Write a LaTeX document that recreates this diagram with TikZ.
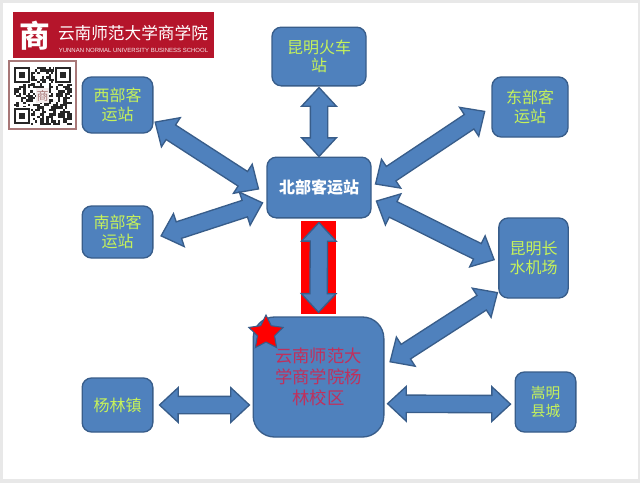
\documentclass[tikz,border=0pt]{standalone}
\usepackage{fontspec}
\setmainfont{Noto Sans CJK SC}
\newfontfamily\latinfont{Liberation Sans}
\usepackage{xcolor}
\usepackage{tikz}
\usetikzlibrary{positioning, shapes.geometric, calc}

\definecolor{boxblue}{HTML}{4F81BD}
\definecolor{boxline}{HTML}{385D8A}
\definecolor{labelgreen}{HTML}{C6F25A}
\definecolor{labelred}{HTML}{C0305C}
\definecolor{logored}{HTML}{B5152B}
\definecolor{qrline}{HTML}{A87878}

\tikzset{
  stationbox/.style={draw=boxline, line width=1pt, fill=boxblue, rounded corners=7pt, inner sep=0pt,
    align=center, text=labelgreen, font=\fontsize{12}{13.7}\selectfont},
  % double block arrow, the two arguments are the gaps at its ends
  dualarrow/.style 2 args={draw=boxline, line width=1pt, fill=boxblue, to path={
    let \p1=($(\tikztostart)!#1!(\tikztotarget)$), \p2=($(\tikztotarget)!#2!(\tikztostart)$) in
    (\p1) -- ($(\p1)!14pt!(\p2)!13pt!90:(\p2)$) -- ($(\p1)!14pt!(\p2)!6.5pt!90:(\p2)$)
    -- ($(\p2)!14pt!(\p1)!6.5pt!-90:(\p1)$) -- ($(\p2)!14pt!(\p1)!13pt!-90:(\p1)$)
    -- (\p2) -- ($(\p2)!14pt!(\p1)!13pt!90:(\p1)$) -- ($(\p2)!14pt!(\p1)!6.5pt!90:(\p1)$)
    -- ($(\p1)!14pt!(\p2)!6.5pt!-90:(\p2)$) -- ($(\p1)!14pt!(\p2)!13pt!-90:(\p2)$) -- cycle}},
}

\begin{document}
\begin{tikzpicture}[x=0.75pt, y=-0.75pt]
  \useasboundingbox (0,0) rectangle (640,483);
  % Slide
  \fill[black!9] (0,0) rectangle (640,483);
  \fill[white] (3,3) rectangle (638,479);

  % Logo
  \fill[logored] (13,12) rectangle (214,58);
  \node[text=white, font=\fontsize{23}{23}\selectfont\bfseries, inner sep=0pt] (logomark) at (34.5,36) {商};
  \node[text=white, font=\fontsize{12.5}{12}\selectfont, inner sep=0pt] (logoname) at (133,33) {云南师范大学商学院};
  \node[text=white!90!logored, font=\latinfont\fontsize{4.5}{5}\selectfont, inner sep=0pt] (logoeng) at (133.5,50) {YUNNAN NORMAL UNIVERSITY BUSINESS SCHOOL};

  % QR code
  \draw[qrline, line width=0.9pt, fill=white] (9,61) rectangle (76,129);
  \pgfmathsetseed{11}
  \foreach \i in {0,...,24} {
    \foreach \j in {0,...,24} {
      \pgfmathtruncatemacro{\bit}{random(0,1)}
      \ifnum\bit=1
        \fill[black!85] ({14+\i*2.32},{67+\j*2.32}) rectangle ++(2.32,2.32);
      \fi
    }
  }
  \foreach \fx/\fy in {14/67, 55/67, 14/108} {
    \fill[white] ({\fx-1},{\fy-1}) rectangle ++(18,18);
    \fill[black!85] (\fx,\fy) rectangle ++(16,16);
    \fill[white] ({\fx+2.3},{\fy+2.3}) rectangle ++(11.4,11.4);
    \fill[black!85] ({\fx+4.6},{\fy+4.6}) rectangle ++(6.8,6.8);
  }
  \fill[white!85!qrline] (36,88) rectangle ++(13,15);
  \node[text=qrline, font=\fontsize{9}{9}\selectfont, inner sep=0pt] (qrmark) at (42.5,95.5) {商};

  % Stations
  \node[stationbox, minimum width=70.5pt, minimum height=44pt] (train) at (319,56.5) {昆明火车\\站};
  \node[stationbox, minimum width=53pt, minimum height=42pt] (west) at (117.5,105) {西部客\\运站};
  \node[stationbox, minimum width=57pt, minimum height=45pt] (east) at (530,107) {东部客\\运站};
  \node[stationbox, minimum width=78pt, minimum height=45.5pt, text=white, font=\fontsize{12}{13.7}\selectfont\bfseries] (north) at (319,187.5) {北部客运站};
  \node[stationbox, minimum width=53pt, minimum height=39pt] (south) at (117.5,232) {南部客\\运站};
  \node[stationbox, minimum width=52pt, minimum height=60pt] (airport) at (533.5,258) {昆明长\\水机场};
  \node[stationbox, minimum width=53pt, minimum height=40.5pt] (yanglin) at (117.5,405) {杨林镇};
  \node[stationbox, minimum width=45.5pt, minimum height=45pt, font=\fontsize{11}{13.5}\selectfont] (songming) at (545.5,402) {嵩明\\县城};
  \node[stationbox, minimum width=98pt, minimum height=90pt, rounded corners=16pt, text=labelred,
    font=\fontsize{13}{15.6}\selectfont] (campus) at (318.5,377) {云南师范大\\学商学院杨\\林校区};

  % Highlight behind the middle arrow
  \fill[red] (301,221) rectangle (336,314);

  % Links
  \draw[dualarrow={0.75pt}{0pt}] (train.south) to (north.north);
  \draw[dualarrow={1.5pt}{7pt}] (west.-24) to (north.187);
  \draw[dualarrow={6pt}{3pt}] (south.-10) to (north.195);
  \draw[dualarrow={3.5pt}{6pt}] (north.1) to (east.west);
  \draw[dualarrow={4pt}{3.4pt}] (north.-12) to (airport.186);
  \draw[dualarrow={3pt}{3pt}] (north.south) to (campus.north);
  \draw[dualarrow={5pt}{0.7pt}] (campus.10) to (airport.224);
  \draw[dualarrow={2.3pt}{3pt}] (campus.-22.5) to (songming.184);
  \draw[dualarrow={4.5pt}{2.3pt}] (yanglin.east) to (campus.203);

  % Star on the campus box
  \node[star, star points=5, star point ratio=2, minimum size=27pt, inner sep=0pt, fill=red, draw=boxline, line width=0.8pt] (campusstar) at (266,333) {};
\end{tikzpicture}
\end{document}
